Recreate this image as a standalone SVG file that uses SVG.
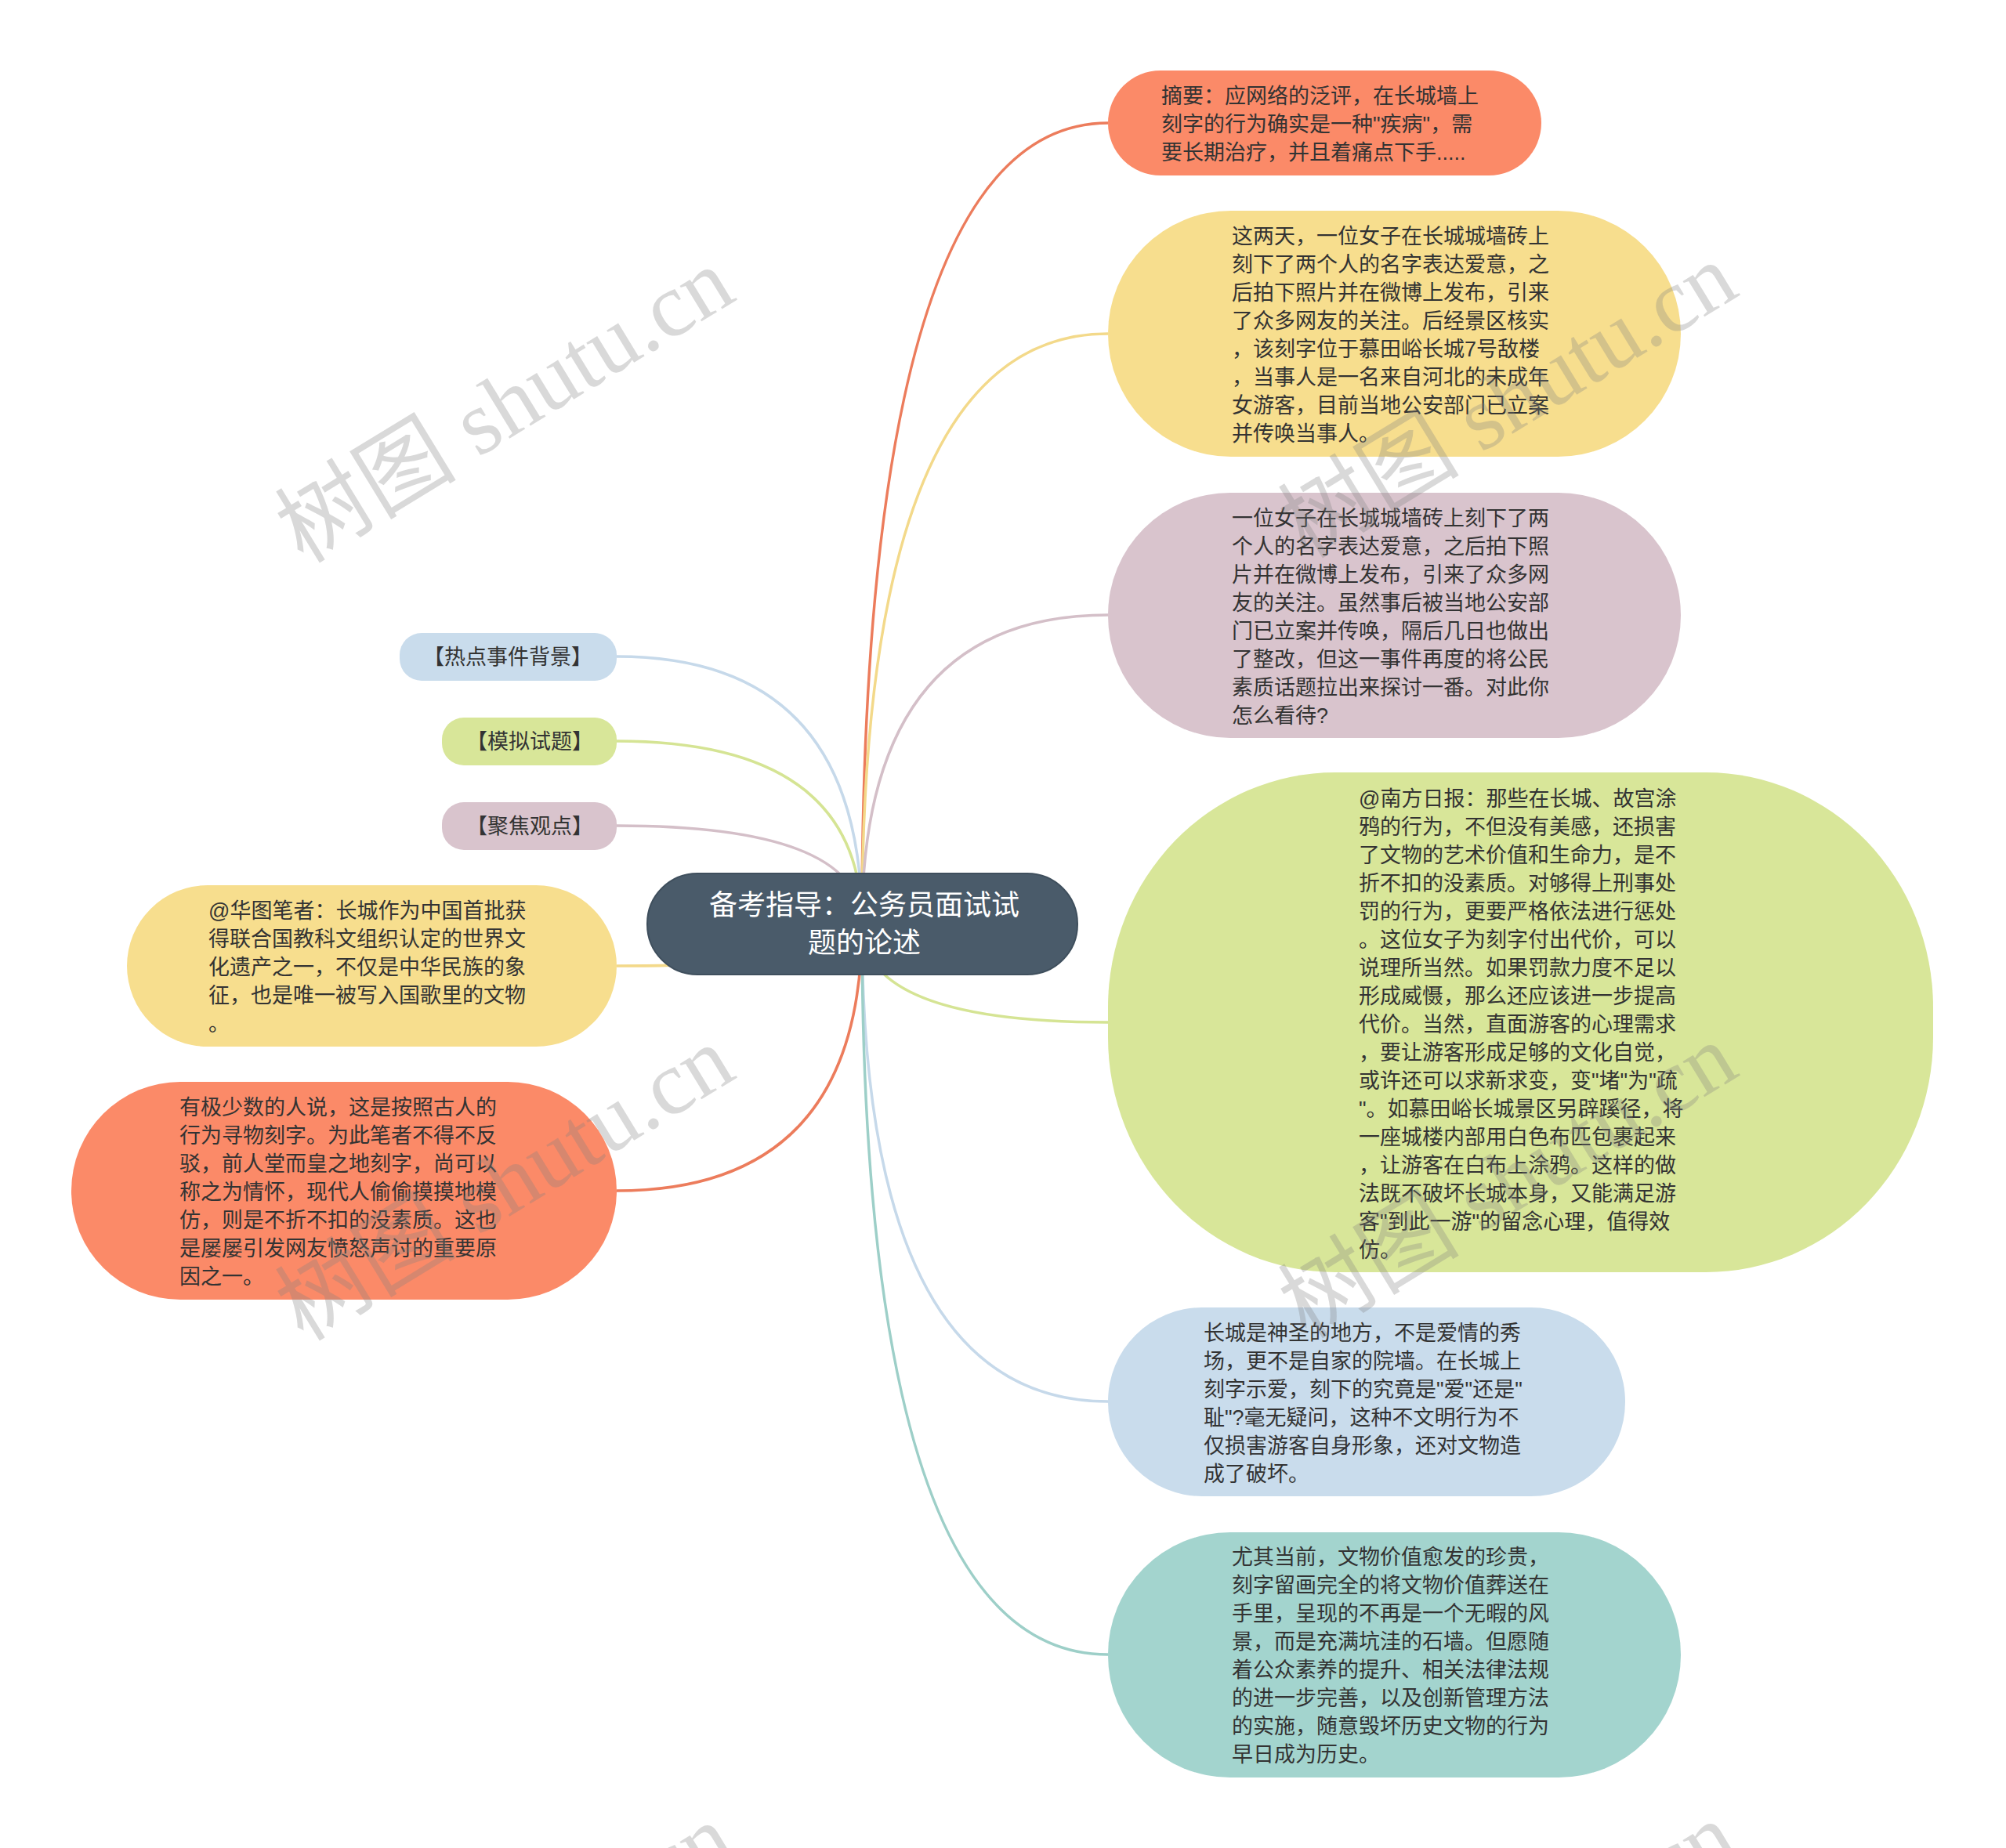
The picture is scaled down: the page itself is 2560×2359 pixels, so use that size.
<svg xmlns="http://www.w3.org/2000/svg" width="2560" height="2359" viewBox="0 0 2560 2359">
<style>
  .t { font-family: "Liberation Sans", "Noto Sans CJK SC", sans-serif; font-size: 27px; fill: #333333; }
  .c { font-family: "Liberation Sans", "Noto Sans CJK SC", sans-serif; font-size: 36px; fill: #ffffff; text-anchor: middle; }
  .lnk { fill: none; stroke-width: 3.5; }
  .wm { font-family: "Liberation Serif", "Noto Sans CJK SC", serif; font-size: 116px; fill: #808080; fill-opacity: 0.3; text-anchor: middle; }
</style>
<rect width="2560" height="2359" fill="#ffffff"/>

<g id="connectors">
  <path class="lnk" stroke="#EC7C5C" d="M1100 1180 Q1100 157 1414 157"/>
  <path class="lnk" stroke="#F3D98A" d="M1100 1180 Q1100 426 1414 426"/>
  <path class="lnk" stroke="#D4BFC8" d="M1100 1180 Q1100 785 1414 785"/>
  <path class="lnk" stroke="#D5E494" d="M1100 1180 Q1100 1305 1414 1305"/>
  <path class="lnk" stroke="#C6D9EA" d="M1100 1180 Q1100 1789 1414 1789"/>
  <path class="lnk" stroke="#9DCFC8" d="M1100 1180 Q1100 2112 1414 2112"/>
  <path class="lnk" stroke="#C6D9EA" d="M1100 1180 Q1100 838 787 838"/>
  <path class="lnk" stroke="#D5E494" d="M1100 1180 Q1100 946 787 946"/>
  <path class="lnk" stroke="#D4BFC8" d="M1100 1180 Q1100 1054 787 1054"/>
  <path class="lnk" stroke="#F3D98A" d="M1100 1180 Q1100 1233 787 1233"/>
  <path class="lnk" stroke="#EC7C5C" d="M1100 1180 Q1100 1520 787 1520"/>
</g>

<g id="center">
  <rect x="826" y="1115" width="549" height="129" rx="64" fill="#4A5B6A" stroke="#3F4F5D" stroke-width="2"/>
  <text class="c"><tspan x="1103" y="1168">备考指导：公务员面试试</tspan><tspan x="1103" y="1216">题的论述</tspan></text>
</g>

<g id="node-summary">
  <rect x="1414" y="90" width="553" height="134" rx="67" fill="#FB8A68"/>
  <text class="t"><tspan x="1482" y="132">摘要：应网络的泛评，在长城墙上</tspan><tspan x="1482" dy="36">刻字的行为确实是一种"疾病"，需</tspan><tspan x="1482" dy="36">要长期治疗，并且着痛点下手.....</tspan></text>
</g>

<g id="node-news">
  <rect x="1414" y="269" width="731" height="314" rx="157" fill="#F7DE8E"/>
  <text class="t"><tspan x="1572" y="311">这两天，一位女子在长城城墙砖上</tspan><tspan x="1572" dy="36">刻下了两个人的名字表达爱意，之</tspan><tspan x="1572" dy="36">后拍下照片并在微博上发布，引来</tspan><tspan x="1572" dy="36">了众多网友的关注。后经景区核实</tspan><tspan x="1572" dy="36">，该刻字位于慕田峪长城7号敌楼</tspan><tspan x="1572" dy="36">，当事人是一名来自河北的未成年</tspan><tspan x="1572" dy="36">女游客，目前当地公安部门已立案</tspan><tspan x="1572" dy="36">并传唤当事人。</tspan></text>
</g>

<g id="node-question">
  <rect x="1414" y="629" width="731" height="313" rx="156" fill="#D9C4CD"/>
  <text class="t"><tspan x="1572" y="671">一位女子在长城城墙砖上刻下了两</tspan><tspan x="1572" dy="36">个人的名字表达爱意，之后拍下照</tspan><tspan x="1572" dy="36">片并在微博上发布，引来了众多网</tspan><tspan x="1572" dy="36">友的关注。虽然事后被当地公安部</tspan><tspan x="1572" dy="36">门已立案并传唤，隔后几日也做出</tspan><tspan x="1572" dy="36">了整改，但这一事件再度的将公民</tspan><tspan x="1572" dy="36">素质话题拉出来探讨一番。对此你</tspan><tspan x="1572" dy="36">怎么看待?</tspan></text>
</g>

<g id="node-nanfang">
  <rect x="1414" y="986" width="1053" height="638" rx="290" ry="300" fill="#D8E699"/>
  <text class="t"><tspan x="1734" y="1029">@南方日报：那些在长城、故宫涂</tspan><tspan x="1734" dy="36">鸦的行为，不但没有美感，还损害</tspan><tspan x="1734" dy="36">了文物的艺术价值和生命力，是不</tspan><tspan x="1734" dy="36">折不扣的没素质。对够得上刑事处</tspan><tspan x="1734" dy="36">罚的行为，更要严格依法进行惩处</tspan><tspan x="1734" dy="36">。这位女子为刻字付出代价，可以</tspan><tspan x="1734" dy="36">说理所当然。如果罚款力度不足以</tspan><tspan x="1734" dy="36">形成威慑，那么还应该进一步提高</tspan><tspan x="1734" dy="36">代价。当然，直面游客的心理需求</tspan><tspan x="1734" dy="36">，要让游客形成足够的文化自觉，</tspan><tspan x="1734" dy="36">或许还可以求新求变，变"堵"为"疏</tspan><tspan x="1734" dy="36">"。如慕田峪长城景区另辟蹊径，将</tspan><tspan x="1734" dy="36">一座城楼内部用白色布匹包裹起来</tspan><tspan x="1734" dy="36">，让游客在白布上涂鸦。这样的做</tspan><tspan x="1734" dy="36">法既不破坏长城本身，又能满足游</tspan><tspan x="1734" dy="36">客"到此一游"的留念心理，值得效</tspan><tspan x="1734" dy="36">仿。</tspan></text>
</g>

<g id="node-sacred">
  <rect x="1414" y="1669" width="660" height="241" rx="120" fill="#C9DCEC"/>
  <text class="t"><tspan x="1536" y="1711">长城是神圣的地方，不是爱情的秀</tspan><tspan x="1536" dy="36">场，更不是自家的院墙。在长城上</tspan><tspan x="1536" dy="36">刻字示爱，刻下的究竟是"爱"还是"</tspan><tspan x="1536" dy="36">耻"?毫无疑问，这种不文明行为不</tspan><tspan x="1536" dy="36">仅损害游客自身形象，还对文物造</tspan><tspan x="1536" dy="36">成了破坏。</tspan></text>
</g>

<g id="node-value">
  <rect x="1414" y="1956" width="731" height="313" rx="156" fill="#A3D4CE"/>
  <text class="t"><tspan x="1572" y="1997">尤其当前，文物价值愈发的珍贵，</tspan><tspan x="1572" dy="36">刻字留画完全的将文物价值葬送在</tspan><tspan x="1572" dy="36">手里，呈现的不再是一个无暇的风</tspan><tspan x="1572" dy="36">景，而是充满坑洼的石墙。但愿随</tspan><tspan x="1572" dy="36">着公众素养的提升、相关法律法规</tspan><tspan x="1572" dy="36">的进一步完善，以及创新管理方法</tspan><tspan x="1572" dy="36">的实施，随意毁坏历史文物的行为</tspan><tspan x="1572" dy="36">早日成为历史。</tspan></text>
</g>

<g id="node-background">
  <rect x="510" y="808" width="277" height="61" rx="28" fill="#C9DCEC"/>
  <text class="t" text-anchor="middle" x="648" y="848">【热点事件背景】</text>
</g>

<g id="node-mock">
  <rect x="564" y="916" width="223" height="61" rx="28" fill="#D8E699"/>
  <text class="t" text-anchor="middle" x="676" y="956">【模拟试题】</text>
</g>

<g id="node-focus">
  <rect x="564" y="1024" width="223" height="61" rx="28" fill="#D9C4CD"/>
  <text class="t" text-anchor="middle" x="676" y="1064">【聚焦观点】</text>
</g>

<g id="node-huatu">
  <rect x="162" y="1130" width="625" height="206" rx="103" fill="#F7DE8E"/>
  <text class="t"><tspan x="266" y="1172">@华图笔者：长城作为中国首批获</tspan><tspan x="266" dy="36">得联合国教科文组织认定的世界文</tspan><tspan x="266" dy="36">化遗产之一，不仅是中华民族的象</tspan><tspan x="266" dy="36">征，也是唯一被写入国歌里的文物</tspan><tspan x="266" dy="36">。</tspan></text>
</g>

<g id="node-ancient">
  <rect x="91" y="1381" width="696" height="278" rx="139" fill="#FB8A68"/>
  <text class="t"><tspan x="229" y="1423">有极少数的人说，这是按照古人的</tspan><tspan x="229" dy="36">行为寻物刻字。为此笔者不得不反</tspan><tspan x="229" dy="36">驳，前人堂而皇之地刻字，尚可以</tspan><tspan x="229" dy="36">称之为情怀，现代人偷偷摸摸地模</tspan><tspan x="229" dy="36">仿，则是不折不扣的没素质。这也</tspan><tspan x="229" dy="36">是屡屡引发网友愤怒声讨的重要原</tspan><tspan x="229" dy="36">因之一。</tspan></text>
</g>

<g id="watermarks">
  <text class="wm" transform="translate(647 522) rotate(-31.4)" x="0" y="34">树图 shutu.cn</text>
  <text class="wm" transform="translate(1927 516) rotate(-31.4)" x="0" y="34">树图 shutu.cn</text>
  <text class="wm" transform="translate(647 1515) rotate(-31.4)" x="0" y="34">树图 shutu.cn</text>
  <text class="wm" transform="translate(1927 1512) rotate(-31.4)" x="0" y="34">树图 shutu.cn</text>
  <text class="wm" transform="translate(647 2508) rotate(-31.4)" x="0" y="34">树图 shutu.cn</text>
  <text class="wm" transform="translate(1927 2506) rotate(-31.4)" x="0" y="34">树图 shutu.cn</text>
</g>
</svg>
